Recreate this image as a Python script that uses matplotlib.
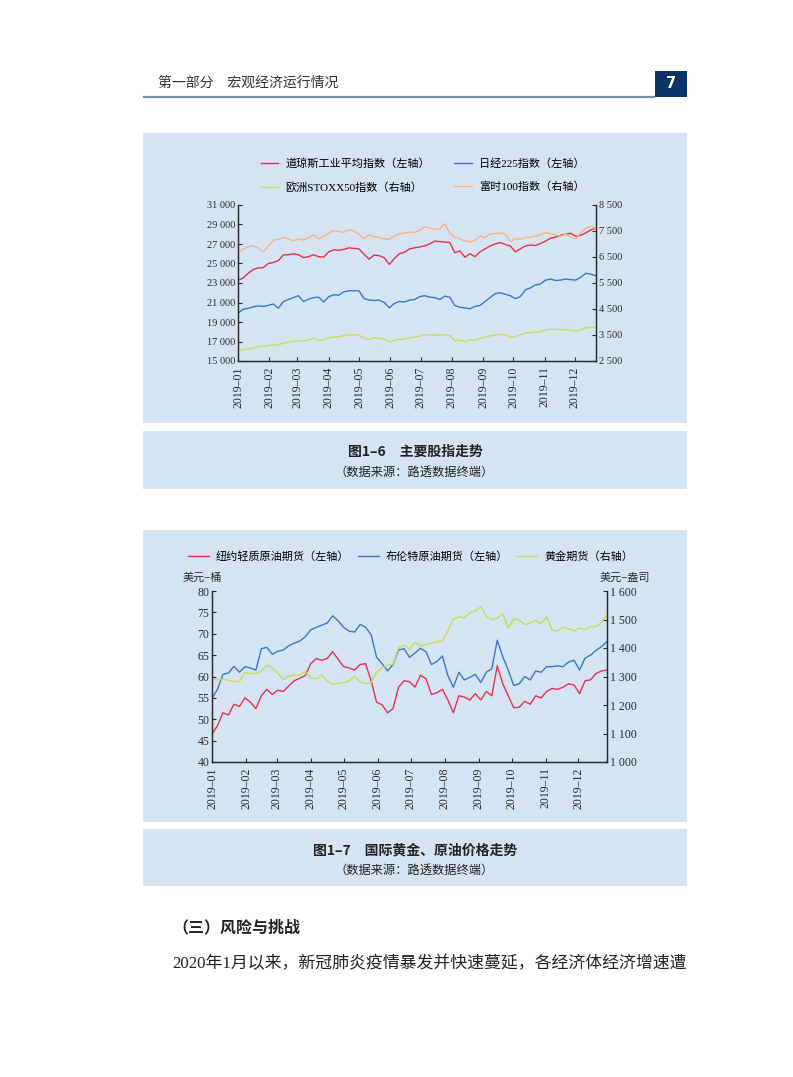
import numpy as np
import pandas as pd
import matplotlib
matplotlib.use("Agg")
import matplotlib.pyplot as plt
from matplotlib.patches import Rectangle
from matplotlib.ticker import FuncFormatter

plt.rcParams['font.family'] = ['Liberation Serif', 'Noto Sans CJK SC']

days1 = np.arange(0, 356, 5)
dow = [23300, 23500, 24000, 24370, 24550, 24580, 25000, 25100, 25300, 25880, 25900, 26000,
       25900, 25600, 25700, 25900, 25700, 25650, 26200, 26400, 26350, 26450, 26600, 26550,
       26500, 25950, 25450, 25860, 25800, 25600, 24900, 25500, 26000, 26150, 26500, 26600,
       26700, 26800, 27000, 27300, 27250, 27200, 27150, 26100, 26300, 25650, 26000, 25700,
       26200, 26500, 26800, 27000, 27150, 26950, 26800, 26200, 26500, 26800, 26900, 26850,
       27050, 27300, 27600, 27700, 27900, 28000, 28100, 27800, 27900, 28150, 28450, 28600]
nikkei = [19900, 20300, 20400, 20550, 20650, 20600, 20700, 20850, 20400, 21100, 21300, 21500,
          21700, 21100, 21350, 21500, 21550, 21050, 21600, 21800, 21750, 22100, 22200, 22200,
          22200, 21400, 21250, 21200, 21250, 21000, 20450, 20900, 21100, 21050, 21250, 21300,
          21600, 21700, 21550, 21500, 21300, 21650, 21550, 20700, 20500, 20450, 20350, 20600,
          20700, 21100, 21500, 21900, 22000, 21850, 21700, 21400, 21600, 22300, 22500, 22800,
          22900, 23300, 23400, 23250, 23300, 23400, 23350, 23300, 23600, 24000, 23900, 23750]
stoxx = [2870, 2940, 2960, 2990, 3050, 3060, 3100, 3110, 3130, 3180, 3220, 3250,
         3280, 3270, 3300, 3380, 3290, 3300, 3400, 3420, 3430, 3480, 3500, 3510,
         3500, 3380, 3320, 3400, 3360, 3350, 3240, 3290, 3330, 3350, 3400, 3410,
         3460, 3520, 3500, 3490, 3500, 3510, 3470, 3290, 3310, 3250, 3310, 3300,
         3360, 3420, 3470, 3490, 3520, 3520, 3420, 3430, 3510, 3580, 3590, 3610,
         3620, 3700, 3720, 3720, 3710, 3700, 3690, 3650, 3700, 3780, 3790, 3800]
ftse = [6650, 6800, 6900, 6920, 6850, 6700, 6900, 7150, 7180, 7250, 7200, 7120,
        7200, 7150, 7250, 7350, 7200, 7280, 7420, 7520, 7480, 7450, 7550, 7500,
        7380, 7200, 7350, 7280, 7250, 7200, 7180, 7300, 7400, 7420, 7450, 7440,
        7530, 7660, 7620, 7560, 7580, 7780, 7420, 7250, 7200, 7120, 7080, 7150,
        7300, 7250, 7380, 7400, 7420, 7380, 7100, 7200, 7180, 7250, 7260, 7300,
        7350, 7430, 7400, 7350, 7300, 7380, 7250, 7200, 7450, 7600, 7680, 7600]

days2 = np.arange(0, 361, 5)
wti = [46.5, 48.5, 51.5, 51.0, 53.5, 53.0, 55.0, 54.0, 52.5, 55.5, 57.0, 55.8,
       56.8, 56.5, 57.8, 59.0, 59.6, 60.2, 63.0, 64.2, 63.8, 64.2, 65.8, 64.0,
       62.3, 62.0, 61.5, 62.8, 63.0, 59.0, 54.0, 53.4, 51.5, 52.5, 57.5, 59.0,
       58.8, 57.5, 60.3, 59.5, 55.8, 56.2, 57.0, 54.5, 51.5, 55.5, 55.2, 54.5,
       56.0, 54.5, 56.5, 55.5, 62.5, 58.3, 55.5, 52.7, 52.8, 54.2, 53.5, 55.5,
       55.0, 56.5, 57.2, 57.0, 57.5, 58.3, 58.0, 56.0, 59.0, 59.2, 60.7, 61.3,
       61.5]
brent = [54.9, 57.0, 60.5, 60.8, 62.4, 61.0, 62.3, 62.0, 61.5, 66.5, 66.8, 65.2,
         65.9, 66.2, 67.2, 67.8, 68.3, 69.3, 70.9, 71.5, 72.0, 72.5, 74.2, 73.0,
         71.5, 70.6, 70.4, 72.2, 71.5, 69.8, 64.5, 63.0, 61.3, 62.8, 66.2, 66.5,
         64.5, 65.5, 66.6, 65.8, 62.8, 63.5, 64.8, 60.2, 57.5, 61.0, 59.2, 59.8,
         60.5, 58.6, 61.0, 61.8, 68.5, 64.6, 61.5, 57.9, 58.3, 60.0, 59.2, 61.3,
         61.0, 62.3, 62.3, 62.5, 62.3, 63.4, 63.8, 61.5, 64.3, 65.0, 66.1, 67.0,
         68.2]
gold = [1292, 1287, 1290, 1287, 1283, 1282, 1314, 1311, 1310, 1320, 1340, 1330,
        1312, 1290, 1302, 1305, 1305, 1318, 1295, 1292, 1305, 1285, 1272, 1276,
        1278, 1285, 1300, 1281, 1275, 1278, 1316, 1330, 1340, 1343, 1400, 1410,
        1395, 1420, 1408, 1412, 1417, 1422, 1425, 1460, 1502, 1510, 1505, 1525,
        1530, 1545, 1510, 1500, 1505, 1520, 1470, 1503, 1498, 1482, 1488, 1497,
        1486, 1510, 1462, 1460, 1472, 1468, 1460, 1470, 1465, 1475, 1475, 1490,
        1518]

months = pd.date_range('2019-01-01', periods=12, freq='MS')
month_labels = ['2019–%02d' % m for m in range(1, 13)]

start = pd.Timestamp('2019-01-01')
dates1 = start + pd.to_timedelta(days1, unit='D')
dates2 = start + pd.to_timedelta(days2, unit='D')

RED = '#e8304b'
BLUE = '#3b78c3'
GREEN = '#c9db57'
ORANGE = '#fbb27e'
PANEL = '#d5e4f3'
INK = '#2b2b2b'
CJK = ['Noto Sans CJK SC', 'DejaVu Sans']
MIX = ['Liberation Serif', 'Noto Sans CJK SC']

W, H = 793, 1077
fig = plt.figure(figsize=(W / 100, H / 100), dpi=100)
fig.patch.set_facecolor('white')

# page layer in pixel coordinates
bg = fig.add_axes([0, 0, 1, 1])
bg.set_xlim(0, W)
bg.set_ylim(H, 0)
bg.axis('off')

for x0, y0, x1, y1 in [(143, 133, 687, 423), (143, 431, 687, 489),
                       (143, 530, 687, 822), (143, 829, 687, 886)]:
    bg.add_patch(Rectangle((x0, y0), x1 - x0, y1 - y0, color=PANEL, lw=0))

# header
bg.text(158, 83, '第一部分　宏观经济运行情况', fontsize=10, va='center', color='#333333', family=CJK)
bg.plot([143, 655], [96.5, 96.5], color='#7d8ea8', lw=1.6, solid_capstyle='butt')
bg.add_patch(Rectangle((655, 71), 32, 26, color='#0b3566', lw=0))
bg.text(671, 84, '7', fontsize=10.5, color='white', ha='center', va='center',
        fontweight='bold', family=['DejaVu Sans'])

# captions
bg.text(415, 452, '图1–6　主要股指走势', fontsize=10, fontweight='bold', ha='center', va='center',
        color='#222222', family=CJK)
bg.text(414, 472, '（数据来源：路透数据终端）', fontsize=8.8, ha='center', va='center',
        color='#222222', family=CJK)
bg.text(415, 850, '图1–7　国际黄金、原油价格走势', fontsize=10, fontweight='bold', ha='center', va='center',
        color='#222222', family=CJK)
bg.text(414, 870, '（数据来源：路透数据终端）', fontsize=8.8, ha='center', va='center',
        color='#222222', family=CJK)

# body text
bg.text(172, 927, '（三）风险与挑战', fontsize=11.5, fontweight='bold', va='center',
        color='#222222', family=CJK)
bg.text(172, 964, '2020年1月以来，新冠肺炎疫情暴发并快速蔓延，各经济体经济增速遭', fontsize=12.2,
        va='center', color='#222222', family=MIX)


def frac(x0, y0, x1, y1):
    return [x0 / W, 1 - y1 / H, (x1 - x0) / W, (y1 - y0) / H]


thousands = FuncFormatter(lambda v, p: '{:,}'.format(int(v)).replace(',', ' '))


def style(ax, axr, ysize):
    for a in (ax, axr):
        a.spines['top'].set_visible(False)
        for s in a.spines.values():
            s.set_color(INK)
            s.set_linewidth(0.9)
        a.tick_params(direction='in', length=3, width=0.8, labelsize=ysize, colors=INK, pad=2)
    ax.tick_params(axis='x', pad=4)
    ax.patch.set_visible(False)
    axr.patch.set_visible(False)
    ax.set_xticks(months)
    ax.set_xticklabels(month_labels, rotation=90, fontsize=8.5)


# ---- chart 1 ----
ax1 = fig.add_axes(frac(238, 205, 596, 361))
ax1r = ax1.twinx()
l_dow, = ax1.plot(dates1, dow, color=RED, lw=1.0, label='道琼斯工业平均指数（左轴）')
l_nk, = ax1.plot(dates1, nikkei, color=BLUE, lw=1.0, label='日经225指数（左轴）')
l_sx, = ax1r.plot(dates1, stoxx, color=GREEN, lw=1.0, label='欧洲STOXX50指数（右轴）')
l_ft, = ax1r.plot(dates1, ftse, color=ORANGE, lw=1.0, label='富时100指数（右轴）')
ax1.set_ylim(15000, 31000)
ax1.set_yticks(np.arange(15000, 31001, 2000))
ax1r.set_ylim(2500, 8500)
ax1r.set_yticks(np.arange(2500, 8501, 1000))
ax1.yaxis.set_major_formatter(thousands)
ax1r.yaxis.set_major_formatter(thousands)
ax1.set_xlim(dates1[0], dates1[-1])
style(ax1, ax1r, 7.5)

fig.legend(handles=[l_dow, l_sx, l_nk, l_ft], ncol=2, loc='center',
           bbox_to_anchor=(422.5 / W, 1 - 175.5 / H), frameon=False,
           handlelength=1.6, handletextpad=0.6, columnspacing=2.2, labelspacing=1.1,
           prop={'family': MIX, 'size': 8})

# ---- chart 2 ----
ax2 = fig.add_axes(frac(212, 591, 607, 762))
ax2r = ax2.twinx()
l_wti, = ax2.plot(dates2, wti, color=RED, lw=1.0, label='纽约轻质原油期货（左轴）')
l_br, = ax2.plot(dates2, brent, color=BLUE, lw=1.0, label='布伦特原油期货（左轴）')
l_au, = ax2r.plot(dates2, gold, color=GREEN, lw=1.0, label='黄金期货（右轴）')
ax2.set_ylim(40, 80)
ax2.set_yticks(np.arange(40, 81, 5))
ax2r.set_ylim(1000, 1600)
ax2r.set_yticks(np.arange(1000, 1601, 100))
ax2r.yaxis.set_major_formatter(thousands)
ax2.set_xlim(dates2[0], dates2[-1])
style(ax2, ax2r, 8.5)

fig.legend(handles=[l_wti, l_br, l_au], ncol=3, loc='center',
           bbox_to_anchor=(410.5 / W, 1 - 557 / H), frameon=False,
           handlelength=1.9, handletextpad=0.6, columnspacing=0.75,
           prop={'family': MIX, 'size': 8})

bg.text(202, 578, '美元–桶', fontsize=8, ha='center', va='center', color=INK, family=CJK)
bg.text(625, 578, '美元–盎司', fontsize=8, ha='center', va='center', color=INK, family=CJK)

fig.savefig('out.png', dpi=100)
